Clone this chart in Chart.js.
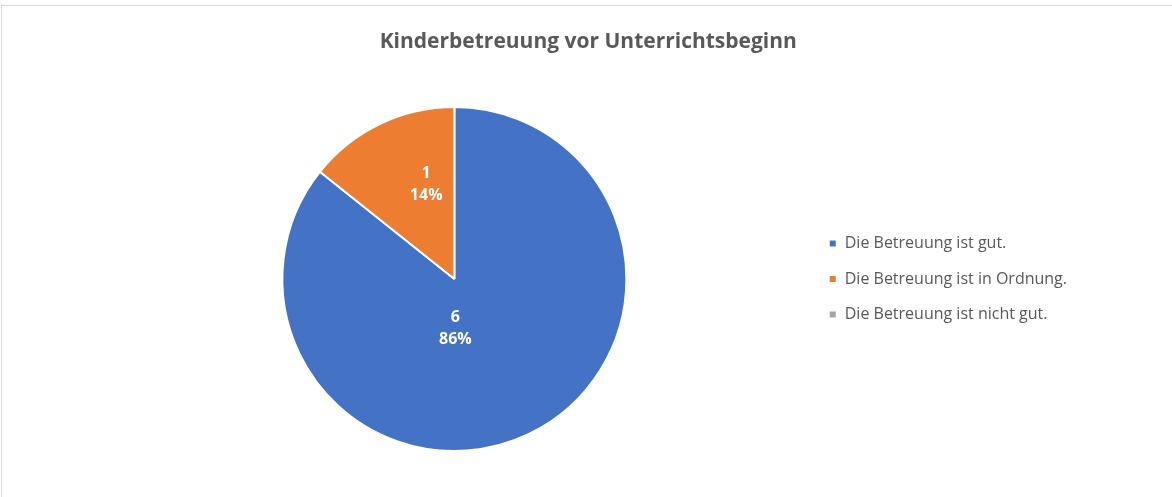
<!DOCTYPE html>
<html>
<head>
<meta charset="utf-8">
<script src="https://cdn.jsdelivr.net/npm/chart.js@4/dist/chart.umd.min.js"></script>
<style>
  html, body { margin: 0; padding: 0; background: #fff; overflow: hidden; }
  #wrap { position: relative; width: 1172px; height: 497px; overflow: hidden; }
  #frame { position: absolute; left: 1px; top: 5px; width: 1300px; height: 600px; border: 1px solid #d9d9d9; box-sizing: border-box; }
  canvas { position: absolute; left: 0; top: 0; }
</style>
</head>
<body>
<div id="wrap">
  <div id="frame"></div>
  <canvas id="pie" width="1172" height="497"></canvas>
</div>
<script>
// Daten
const categories = ["Die Betreuung ist gut.", "Die Betreuung ist in Ordnung.", "Die Betreuung ist nicht gut."];
const counts = [6, 1, 0];
const sliceColors = ["#4472C4", "#ED7D31", "#A5A5A5"];
// Label-Position je Segment: Anteil vom Radius, Drehung in Grad
const labelRadius = [0.28, 0.58, 0.5];
const labelShift = [24.5, 9.3, 0];

const total = counts.reduce((a, b) => a + b, 0);

// Werte + Prozent in die Segmente schreiben
const sliceLabels = {
  id: 'sliceLabels',
  afterDatasetsDraw(chart) {
    const ctx = chart.ctx;
    const meta = chart.getDatasetMeta(0);
    ctx.save();
    ctx.fillStyle = '#ffffff';
    ctx.font = 'bold 16px "Open Sans"';
    ctx.textAlign = 'center';
    ctx.textBaseline = 'middle';
    meta.data.forEach((arc, i) => {
      const v = counts[i];
      if (!v) return;
      const p = arc.getProps(['x', 'y', 'startAngle', 'endAngle', 'outerRadius'], true);
      const mid = (p.startAngle + p.endAngle) / 2 + labelShift[i] * Math.PI / 180;
      const r = p.outerRadius * labelRadius[i];
      const x = p.x + Math.cos(mid) * r;
      const y = p.y + Math.sin(mid) * r;
      ctx.fillText(String(v), x, y - 10);
      ctx.fillText(Math.round(v / total * 100) + '%', x, y + 12);
    });
    ctx.restore();
  }
};

new Chart(document.getElementById('pie'), {
  type: 'pie',
  data: {
    labels: categories,
    datasets: [{
      data: counts,
      backgroundColor: sliceColors,
      borderColor: '#ffffff',
      borderWidth: 2
    }]
  },
  options: {
    responsive: false,
    animation: false,
    layout: {
      padding: { left: 99.5, right: 95, top: 0, bottom: 45 }
    },
    plugins: {
      title: {
        display: true,
        text: 'Kinderbetreuung vor Unterrichtsbeginn',
        color: '#595959',
        font: { family: '"Open Sans"', size: 21, weight: 'bold', lineHeight: 1.2 },
        padding: { top: 29.4, bottom: 51.4 }
      },
      legend: {
        position: 'right',
        fullSize: false,
        labels: {
          color: '#595959',
          font: { family: '"Open Sans"', size: 16 },
          boxWidth: 8,
          boxHeight: 8,
          padding: 19.5
        }
      },
      tooltip: { enabled: false }
    }
  },
  plugins: [sliceLabels]
});
</script>
</body>
</html>
